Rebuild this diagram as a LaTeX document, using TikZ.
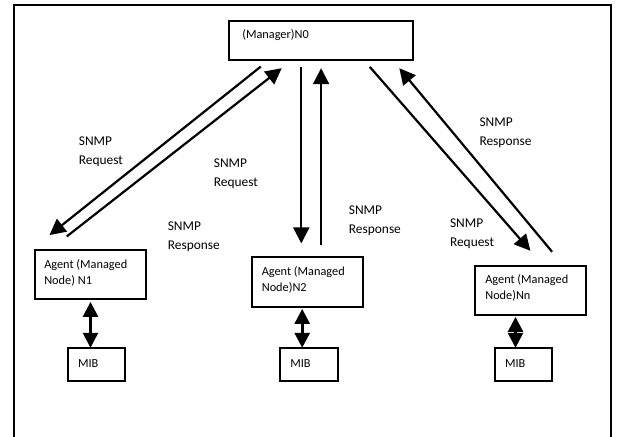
\documentclass[tikz,border=0pt]{standalone}
\usepackage{fontspec}
\setmainfont{Carlito}
\usetikzlibrary{arrows.meta,calc}

\tikzset{
  box/.style={draw, line width=1.8pt, inner sep=0pt},
  boxtext/.style={font=\fontsize{12.3}{16}\selectfont, align=left, inner sep=0pt, anchor=north west},
  lbl/.style={font=\fontsize{13.4}{19.3}\selectfont, align=left, inner sep=0pt, anchor=north west},
  msg/.style={line width=2.2pt, -{Triangle[length=16pt,width=16pt]}},
  mibarrow/.style={line width=2.6pt, {Triangle[length=15pt,width=15pt]}-{Triangle[length=15pt,width=15pt]}},
}

\begin{document}
\begin{tikzpicture}[x=1pt, y=-1pt]
  \useasboundingbox (0,0) rectangle (617,436);
  \fill[white] (0,0) rectangle (617,436);

  % outer frame (runs on past the lower edge)
  \begin{scope}
    \clip (0,0) rectangle (617,436);
    \draw[line width=2pt] (13.8,445) -- (13.8,5) -- (611,5) -- (611,445);
  \end{scope}

  % manager
  \node[box, minimum width=184pt, minimum height=39.6pt] (m) at (321,40.5) {};
  \node[boxtext] (mt) at ($(m.north west)+(14,9.5)$) {(Manager)N0};

  % agents
  \node[box, minimum width=111.4pt, minimum height=49pt] (n1) at (90.3,274.5) {};
  \node[boxtext] (n1t) at ($(n1.north west)+(10.4,10.5)$) {Agent (Managed\\Node) N1};

  \node[box, minimum width=111pt, minimum height=50pt] (n2) at (307.5,282) {};
  \node[boxtext] (n2t) at ($(n2.north west)+(10.5,10.5)$) {Agent (Managed\\Node)N2};

  \node[box, minimum width=111pt, minimum height=49pt] (nn) at (530.5,290.2) {};
  \node[boxtext] (nnt) at ($(nn.north west)+(11,10)$) {Agent (Managed\\Node)Nn};

  % MIBs
  \node[box, minimum width=57.3pt, minimum height=33pt] (mib1) at (96.4,364.2) {};
  \node[boxtext, anchor=west] (mib1t) at ($(mib1.west)+(11,-1)$) {MIB};
  \node[box, minimum width=57.7pt, minimum height=33pt] (mib2) at (308.9,364.2) {};
  \node[boxtext, anchor=west] (mib2t) at ($(mib2.west)+(11,-1)$) {MIB};
  \node[box, minimum width=57.3pt, minimum height=33pt] (mib3) at (523.4,364.2) {};
  \node[boxtext, anchor=west] (mib3t) at ($(mib3.west)+(11,-1)$) {MIB};

  % manager <-> agent N1
  \draw[msg] ($(m.south west)+(32.7,5.4)$) -- ($(n1.north west)+(15.8,-14)$);
  \draw[msg] ($(n1.north west)+(33.1,-12.7)$) -- ($(m.south west)+(53.6,7)$);

  % manager <-> agent N2
  \draw[msg] ($(m.south west)+(73.2,5.4)$) -- ($(n2.north west)+(50.2,-12.7)$);
  \draw[msg] ($(n2.north west)+(70,-11.3)$) -- ($(m.south west)+(93,7)$);

  % manager <-> agent Nn
  \draw[msg] ($(m.south west)+(141.7,5.7)$) -- ($(nn.north west)+(56.3,-14)$);
  \draw[msg] ($(nn.north west)+(78,-13)$) -- ($(m.south west)+(171.2,7)$);

  % agent <-> MIB
  \draw[mibarrow] ($(n1.south)+(0.2,2)$) -- ($(mib1.north)+(-5.9,1)$);
  \draw[mibarrow] ($(n2.south)+(-5.3,1)$) -- ($(mib2.north)+(-6.7,1)$);
  \draw[mibarrow] ($(nn.south)+(-15,1.3)$) -- ($(mib3.north)+(-7.9,1)$);

  % message labels
  \node[lbl] (l1) at (78.7,136.5) {SNMP\\Request};
  \node[lbl] (l2) at (213.7,158.5) {SNMP\\Request};
  \node[lbl] (l3) at (167.6,221.5) {SNMP\\Response};
  \node[lbl] (l4) at (348.7,205.5) {SNMP\\Response};
  \node[lbl] (l5) at (449.8,218.5) {SNMP\\Request};
  \node[lbl] (l6) at (479.3,117.5) {SNMP\\Response};
\end{tikzpicture}
\end{document}
